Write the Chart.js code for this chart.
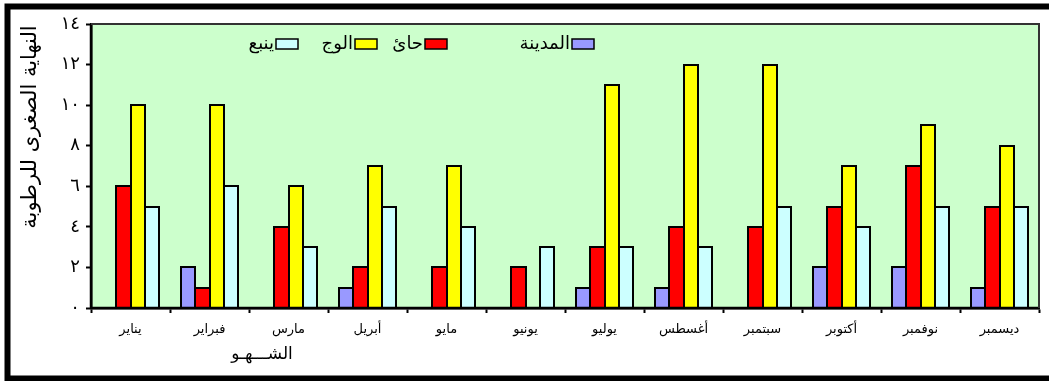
<!DOCTYPE html>
<html lang="ar">
<head>
<meta charset="utf-8">
<title>النهاية الصغرى للرطوبة</title>
<script src="https://cdn.jsdelivr.net/npm/chart.js@4/dist/chart.umd.min.js"></script>
<style>
  html, body { margin: 0; padding: 0; background: #ffffff; }
  #wrap { width: 1049px; height: 381px; position: relative; }
</style>
</head>
<body>
<div id="wrap"><canvas id="c" width="1049" height="381"></canvas></div>
<script>
// Months (categories)
const months = ['يناير', 'فبراير', 'مارس', 'أبريل', 'مايو', 'يونيو', 'يوليو', 'أغسطس', 'سبتمبر', 'أكتوبر', 'نوفمبر', 'ديسمبر'];

// Minimum humidity per station
const madinah = [0, 2, 0, 1, 0, 0, 1, 1, 0, 2, 2, 1];
const hail    = [6, 1, 4, 2, 2, 2, 3, 4, 4, 5, 7, 5];
const jouf    = [10, 10, 6, 7, 7, 0, 11, 12, 12, 7, 9, 8];
const yanbu   = [5, 6, 3, 5, 4, 3, 3, 3, 5, 4, 5, 5];

// Series names as shown in the legend
const seriesNames = ['المدينة', 'حائ', 'الوج', 'ينبع'];

// Value axis tick labels (Arabic-Indic digits)
const yTickValues = [0, 2, 4, 6, 8, 10, 12, 14];
const yTickLabels = ['٠', '٢', '٤', '٦', '٨', '١٠', '١٢', '١٤'];

const xTitle = 'الشـــهـو';
const yTitle = 'النهاية الصغرى للرطوبة';

const FONT = "'DejaVu Sans', sans-serif";

function series(label, data, color) {
  return {
    label, data,
    backgroundColor: color,
    borderWidth: 0,
    inflateAmount: 0,
    categoryPercentage: 0.72,
    barPercentage: 1.0
  };
}

// Black outlines centred on each bar's edges, so neighbours share one line
const barOutlines = {
  id: 'barOutlines',
  afterDatasetsDraw(chart) {
    const { ctx, chartArea: a } = chart;
    ctx.save();
    ctx.strokeStyle = '#000000';
    ctx.lineWidth = 2;
    chart.data.datasets.forEach((ds, i) => {
      const meta = chart.getDatasetMeta(i);
      meta.data.forEach((bar, j) => {
        if (!ds.data[j]) return;
        const { x, y, base, width } = bar.getProps(['x', 'y', 'base', 'width'], true);
        const l = Math.round(x - width / 2);
        const r = Math.round(x + width / 2);
        const t = Math.round(y);
        const b = Math.round(base);
        ctx.beginPath();
        ctx.moveTo(l, b);
        ctx.lineTo(l, t);
        ctx.lineTo(r, t);
        ctx.lineTo(r, b);
        ctx.stroke();
      });
    });
    // axis lines on top of the bars
    ctx.lineWidth = 2.5;
    ctx.beginPath();
    ctx.moveTo(a.left, a.top);
    ctx.lineTo(a.left, a.bottom);
    ctx.lineTo(a.right, a.bottom);
    ctx.stroke();
    ctx.restore();
  }
};

// Frame, plot background, titles and legend
const decor = {
  id: 'decor',
  beforeDraw(chart) {
    const { ctx, chartArea: a } = chart;
    ctx.save();
    ctx.fillStyle = '#ffffff';
    ctx.fillRect(0, 0, chart.width, chart.height);
    ctx.fillStyle = '#CCFFCC';
    ctx.fillRect(a.left, a.top, a.right - a.left, a.bottom - a.top);
    ctx.restore();
  },
  afterDraw(chart) {
    const { ctx, chartArea: a } = chart;
    ctx.save();
    // plot border (top / right)
    ctx.strokeStyle = '#333333';
    ctx.lineWidth = 2;
    ctx.beginPath();
    ctx.moveTo(a.left, a.top);
    ctx.lineTo(a.right, a.top);
    ctx.lineTo(a.right, a.bottom);
    ctx.stroke();

    // outer frame
    ctx.strokeStyle = '#000000';
    ctx.lineWidth = 6;
    ctx.strokeRect(7.5, 6.5, chart.width + 20, 372);

    // axis titles
    ctx.fillStyle = '#000000';
    ctx.textAlign = 'center';
    ctx.textBaseline = 'middle';
    ctx.font = '17px ' + FONT;
    ctx.fillText(xTitle, 262, 355);

    ctx.save();
    ctx.translate(31, 127);
    ctx.rotate(-Math.PI / 2);
    ctx.font = '21px ' + FONT;
    ctx.fillText(yTitle, 0, 0);
    ctx.restore();

    // legend: swatch on the right, name to its left
    const boxRight = [594, 447, 377, 298];
    const cy = 44;
    ctx.font = '18px ' + FONT;
    ctx.textAlign = 'right';
    chart.data.datasets.forEach((ds, i) => {
      const bx = boxRight[i] - 22;
      ctx.fillStyle = ds.backgroundColor;
      ctx.fillRect(bx, cy - 5, 22, 10);
      ctx.strokeStyle = '#000000';
      ctx.lineWidth = 1.5;
      ctx.strokeRect(bx, cy - 5, 22, 10);
      ctx.fillStyle = '#000000';
      ctx.fillText(ds.label, bx - 2, cy);
    });
    ctx.restore();
  }
};

new Chart(document.getElementById('c'), {
  type: 'bar',
  data: {
    labels: months,
    datasets: [
      series(seriesNames[0], madinah, '#9999FF'),
      series(seriesNames[1], hail, '#FF0000'),
      series(seriesNames[2], jouf, '#FFFF00'),
      series(seriesNames[3], yanbu, '#CCFFFF')
    ]
  },
  options: {
    responsive: false,
    animation: false,
    layout: { padding: { left: 0, top: 24, right: 10, bottom: 0 } },
    plugins: {
      legend: { display: false },
      tooltip: { enabled: false },
      title: { display: false }
    },
    scales: {
      x: {
        grid: {
          display: true,
          offset: true,
          drawOnChartArea: false,
          drawTicks: true,
          tickLength: 5,
          tickWidth: 2,
          tickColor: '#000000'
        },
        border: { display: true, color: '#000000', width: 2.5 },
        ticks: {
          color: '#000000',
          font: { family: FONT, size: 13 },
          padding: 9,
          maxRotation: 0,
          autoSkip: false
        },
        afterFit(scale) { scale.height = 73; }
      },
      y: {
        min: 0,
        max: 14,
        afterBuildTicks(scale) { scale.ticks = yTickValues.map(v => ({ value: v })); },
        grid: {
          display: true,
          drawOnChartArea: false,
          drawTicks: true,
          tickLength: 5,
          tickWidth: 2,
          tickColor: '#000000'
        },
        border: { display: true, color: '#000000', width: 2.5 },
        ticks: {
          color: '#000000',
          font: { family: FONT, size: 18 },
          padding: 6,
          callback: (v) => yTickLabels[yTickValues.indexOf(v)]
        },
        afterFit(scale) { scale.width = 91; }
      }
    }
  },
  plugins: [decor, barOutlines]
});
</script>
</body>
</html>
